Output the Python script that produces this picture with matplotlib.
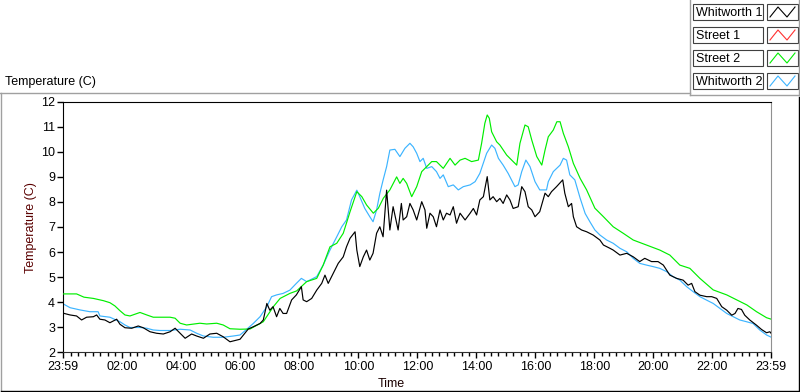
import matplotlib.pyplot as plt
from matplotlib.ticker import MultipleLocator

plt.rcParams['font.family'] = ['Liberation Sans', 'DejaVu Sans']

# time axis: hours after 23:59 of the previous day (0 -> 23:59, 24 -> 23:59)
w1_hours = [0, 0.23, 0.45, 0.62, 0.79, 1.02, 1.13, 1.24, 1.41, 1.58, 1.81, 1.92, 2.09, 2.32,
            2.54, 2.71, 2.94, 3.16, 3.39, 3.62, 3.79, 3.96, 4.13, 4.35, 4.52, 4.75, 4.97, 5.2,
            5.42, 5.65, 5.88, 5.99, 6.27, 6.44, 6.67, 6.78, 6.9, 7.0, 7.11, 7.23, 7.34, 7.45,
            7.57, 7.74, 7.9, 8.07, 8.13, 8.25, 8.42, 8.59, 8.76, 8.87, 8.98, 9.15, 9.32, 9.49,
            9.6, 9.72, 9.89, 9.95, 10.05, 10.17, 10.28, 10.39, 10.5, 10.62, 10.73, 10.84, 10.96,
            11.07, 11.18, 11.35, 11.46, 11.52, 11.64, 11.75, 11.86, 11.98, 12.15, 12.26, 12.32,
            12.43, 12.54, 12.65, 12.77, 12.88, 12.99, 13.11, 13.22, 13.33, 13.45, 13.62, 13.79,
            13.9, 14.01, 14.12, 14.24, 14.37, 14.46, 14.57, 14.69, 14.8, 14.91, 15.03, 15.14,
            15.25, 15.42, 15.54, 15.65, 15.76, 15.88, 15.99, 16.15, 16.33, 16.44, 16.55, 16.72,
            16.93, 17.0, 17.12, 17.23, 17.29, 17.4, 17.57, 17.74, 17.96, 18.19, 18.31, 18.53,
            18.64, 18.87, 19.1, 19.32, 19.54, 19.71, 19.94, 20.16, 20.34, 20.56, 20.79, 21.01,
            21.18, 21.3, 21.41, 21.58, 21.81, 21.98, 22.15, 22.32, 22.49, 22.66, 22.77, 22.87,
            22.99, 23.1, 23.27, 23.5, 23.67, 23.84, 23.95, 24.0]
w1_temp = [3.56, 3.49, 3.45, 3.29, 3.4, 3.42, 3.49, 3.32, 3.29, 3.18, 3.32, 3.12, 2.98, 2.96,
           3.05, 2.98, 2.82, 2.76, 2.73, 2.82, 2.96, 2.76, 2.56, 2.73, 2.65, 2.56, 2.73, 2.76,
           2.62, 2.42, 2.49, 2.52, 2.93, 3.02, 3.15, 3.29, 3.95, 3.68, 3.82, 3.42, 3.75, 3.55,
           3.55, 4.09, 4.29, 4.62, 4.09, 4.02, 4.15, 4.48, 4.75, 5.08, 4.75, 5.15, 5.55, 5.81,
           6.21, 6.55, 6.81, 6.08, 5.42, 5.81, 6.08, 5.68, 5.95, 6.75, 7.01, 6.61, 8.47,
           6.88, 7.81, 6.88, 7.94, 7.28, 7.41, 7.94, 7.68, 7.28, 8.01, 7.68, 6.95,
           7.55, 7.41, 7.01, 7.68, 7.28, 7.55, 7.48, 7.81, 7.15, 7.55, 7.28, 7.55,
           7.74, 7.48, 8.08, 8.21, 9.01, 8.08, 8.21, 8.01, 8.14, 7.94, 8.28, 8.08,
           7.74, 7.81, 8.61, 8.41, 7.81, 7.68, 7.41, 7.61, 8.35, 8.21, 8.41, 8.61,
           8.88, 8.35, 7.81, 7.94, 7.41, 7.01, 6.88, 6.81, 6.68, 6.48, 6.28, 6.15,
           6.08, 5.88, 5.95, 5.81, 5.62, 5.75, 5.62, 5.62, 5.48, 5.08, 4.95, 4.88,
           4.68, 4.75, 4.42, 4.28, 4.22, 4.22, 4.15, 3.82, 3.68, 3.48, 3.55, 3.75,
           3.71, 3.48, 3.29, 3.08, 2.91, 2.78, 2.82, 2.75]

s1_hours = []
s1_temp = []

s2_hours = [0, 0.45, 0.7, 1.02, 1.36, 1.58, 1.75, 1.92, 2.09, 2.26, 2.6, 2.83, 3.05, 3.62,
            3.79, 3.96, 4.18, 4.63, 4.86, 5.2, 5.42, 5.65, 5.99, 6.33, 6.78, 7.12, 7.35, 7.68,
            7.91, 8.25, 8.59, 8.81, 9.04, 9.27, 9.49, 9.72, 9.95, 10.12, 10.28, 10.51, 10.68,
            10.85, 11.07, 11.3, 11.41, 11.52, 11.64, 11.81, 11.98, 12.15, 12.32, 12.49, 12.65,
            12.88, 13.11, 13.28, 13.45, 13.62, 13.84, 14.07, 14.18, 14.29, 14.37, 14.44, 14.52,
            14.69, 14.8, 15.03, 15.25, 15.37, 15.48, 15.65, 15.76, 15.88, 16.05, 16.22, 16.33,
            16.44, 16.61, 16.73, 16.84, 16.95, 17.12, 17.29, 17.52, 17.74, 18.02, 18.31, 18.64,
            18.98, 19.32, 19.77, 20.22, 20.56, 20.9, 21.24, 21.58, 22.03, 22.49, 22.83, 23.17,
            23.5, 23.84, 24.0]
s2_temp = [4.33, 4.33, 4.2, 4.15, 4.06, 3.98, 3.85, 3.66, 3.49, 3.45, 3.59, 3.49, 3.4, 3.4,
           3.36, 3.16, 3.09, 3.16, 3.13, 3.16, 3.09, 2.94, 2.92, 2.93, 3.22, 3.82, 4.15, 4.35,
           4.45, 4.82, 4.95, 5.48, 6.21, 6.35, 6.75, 7.61, 8.41, 8.21, 7.88, 7.55, 7.75,
           8.15, 8.48, 9.0, 8.74, 8.94, 8.74, 8.21, 8.61, 9.21, 9.41, 9.61, 9.61,
           9.34, 9.74, 9.47, 9.67, 9.74, 9.61, 9.67, 10.34, 11.14, 11.47, 11.34, 10.8,
           10.4, 10.27, 9.87, 9.61, 9.47, 10.34, 11.07, 11.0, 10.47, 9.81, 9.47, 10.07,
           10.6, 10.87, 11.2, 11.2, 10.74, 10.2, 9.54, 8.94, 8.48, 7.75, 7.41, 7.01,
           6.75, 6.48, 6.28, 6.08, 5.88, 5.48, 5.35, 4.95, 4.49, 4.29, 4.09, 3.89,
           3.62, 3.38, 3.32]

w2_hours = [0, 0.23, 0.57, 0.9, 1.18, 1.24, 1.58, 1.92, 2.09, 2.26, 2.6, 2.83, 3.05, 3.28,
            3.62, 3.96, 4.3, 4.52, 4.75, 5.08, 5.42, 5.76, 5.99, 6.2, 6.44, 6.67, 6.9, 7.06,
            7.23, 7.45, 7.68, 7.9, 8.07, 8.25, 8.59, 8.81, 9.04, 9.27, 9.44, 9.6, 9.77, 9.95,
            10.05, 10.22, 10.39, 10.5, 10.62, 10.73, 10.84, 10.96, 11.07, 11.24, 11.41, 11.58,
            11.75, 11.86, 11.98, 12.09, 12.2, 12.32, 12.49, 12.65, 12.77, 12.88, 13.05, 13.22,
            13.39, 13.56, 13.79, 13.96, 14.12, 14.35, 14.52, 14.63, 14.75, 14.91, 15.08, 15.31,
            15.42, 15.54, 15.68, 15.82, 15.99, 16.15, 16.38, 16.44, 16.61, 16.84, 16.95, 17.06,
            17.17, 17.34, 17.52, 17.69, 17.85, 18.02, 18.19, 18.42, 18.64, 18.87, 19.1, 19.32,
            19.54, 19.77, 19.99, 20.22, 20.45, 20.67, 20.9, 21.13, 21.35, 21.58, 21.81, 22.03,
            22.26, 22.49, 22.71, 22.93, 23.16, 23.38, 23.61, 23.84, 24.0]
w2_temp = [3.93, 3.78, 3.69, 3.62, 3.62, 3.45, 3.4, 3.22, 3.09, 2.99, 2.99, 2.96, 2.89, 2.87,
           2.87, 2.92, 2.89, 2.76, 2.65, 2.6, 2.6, 2.65, 2.69, 2.9, 3.15, 3.42, 3.82, 4.22,
           4.29, 4.35, 4.48, 4.75, 4.95, 4.82, 5.02, 5.48, 6.08, 6.61, 7.01, 7.28, 8.08, 8.47,
           8.21, 7.74, 7.41, 7.21, 7.68, 8.34, 8.87, 9.41, 10.07, 10.1, 9.81, 10.14,
           10.34, 10.2, 9.94, 9.61, 9.74, 9.34, 9.41, 9.21, 8.94, 9.08, 8.61, 8.68,
           8.48, 8.61, 8.68, 8.81, 9.14, 9.94, 10.27, 10.14, 9.74, 9.47, 9.14, 8.61,
           8.68, 9.21, 9.67, 9.41, 8.81, 8.48, 8.48, 8.81, 9.21, 9.47, 9.74, 9.67,
           9.08, 8.88, 8.15, 7.54, 7.21, 6.88, 6.68, 6.48, 6.35, 6.15, 6.01, 5.75,
           5.55, 5.48, 5.42, 5.35, 5.22, 5.02, 4.88, 4.62, 4.42, 4.22, 4.08, 3.95,
           3.75, 3.55, 3.42, 3.29, 3.22, 3.15, 2.89, 2.69, 2.6]

series_names = ['Whitworth 1', 'Street 1', 'Street 2', 'Whitworth 2']
series_colors = ['#000000', '#ff3030', '#00ee00', '#3cb4ff']
series_data = [(w1_hours, w1_temp), (s1_hours, s1_temp), (s2_hours, s2_temp), (w2_hours, w2_temp)]

tick_hours = list(range(0, 25, 2))
tick_labels = ['23:59', '02:00', '04:00', '06:00', '08:00', '10:00', '12:00',
               '14:00', '16:00', '18:00', '20:00', '22:00', '23:59']

fig = plt.figure(figsize=(8, 3.92), dpi=100)

# --- plot area ---
ax = fig.add_axes([63.3 / 800, 1 - 352.3 / 392, 708 / 800, 250.6 / 392])
draw_order = [3, 2, 1, 0]
for i in draw_order:
    h, t = series_data[i]
    ax.plot(h, t, color=series_colors[i], lw=0.85, zorder=2 + (3 - i))

ax.set_xlim(0, 24)
ax.set_ylim(2, 12)
ax.set_xticks(tick_hours)
ax.set_xticklabels(tick_labels)
ax.xaxis.set_minor_locator(MultipleLocator(0.25))
ax.yaxis.set_major_locator(MultipleLocator(1))
ax.tick_params(axis='both', which='major', direction='out', length=4, width=1,
               labelsize=9, colors='black', pad=2)
ax.tick_params(axis='x', which='minor', direction='out', length=3, width=1, color='black')
ax.spines['left'].set_color('black')
ax.spines['top'].set_color('black')
ax.spines['right'].set_color('#909090')
ax.spines['bottom'].set_color('#303030')

fig.text(31 / 800, 1 - 228 / 392, 'Temperature (C)', rotation=90, ha='center', va='center',
         fontsize=9, color='#5a0000')
fig.text(391 / 800, 1 - 384 / 392, 'Time', ha='center', va='center', fontsize=9, color='#1a0000')
fig.text(5 / 800, 1 - 82 / 392, 'Temperature (C)', ha='left', va='center', fontsize=9)

# --- frame and legend, drawn in pixel coordinates ---
ov = fig.add_axes([0, 0, 1, 1], zorder=5)
ov.set_xlim(0, 800)
ov.set_ylim(392, 0)
ov.axis('off')
ov.patch.set_alpha(0)

gray = '#a0a0a0'
ov.plot([0, 690], [92.5, 92.5], color=gray, lw=1)
ov.plot([1, 1], [92.5, 391], color=gray, lw=1)
ov.plot([690, 690], [0, 95], color=gray, lw=1)
ov.plot([690, 799], [95, 95], color=gray, lw=1)
ov.plot([799, 799], [0, 95], color=gray, lw=1)
ov.plot([799, 799], [97, 391], color='black', lw=1)
ov.plot([1, 799], [391, 391], color='black', lw=1)

for k, name in enumerate(series_names):
    top = 4 + k * 23
    ov.add_patch(plt.Rectangle((693, top), 70, 16, facecolor='white', edgecolor='#404040', lw=0.8))
    ov.text(696, top + 8.5, name, ha='left', va='center', fontsize=9)
    ov.add_patch(plt.Rectangle((767, top), 31, 16, facecolor='white', edgecolor='#404040', lw=0.8))
    ov.plot([770, 778, 787, 795], [top + 13, top + 3, top + 13, top + 3],
            color=series_colors[k], lw=0.8)

fig.savefig('out.png', dpi=100)
